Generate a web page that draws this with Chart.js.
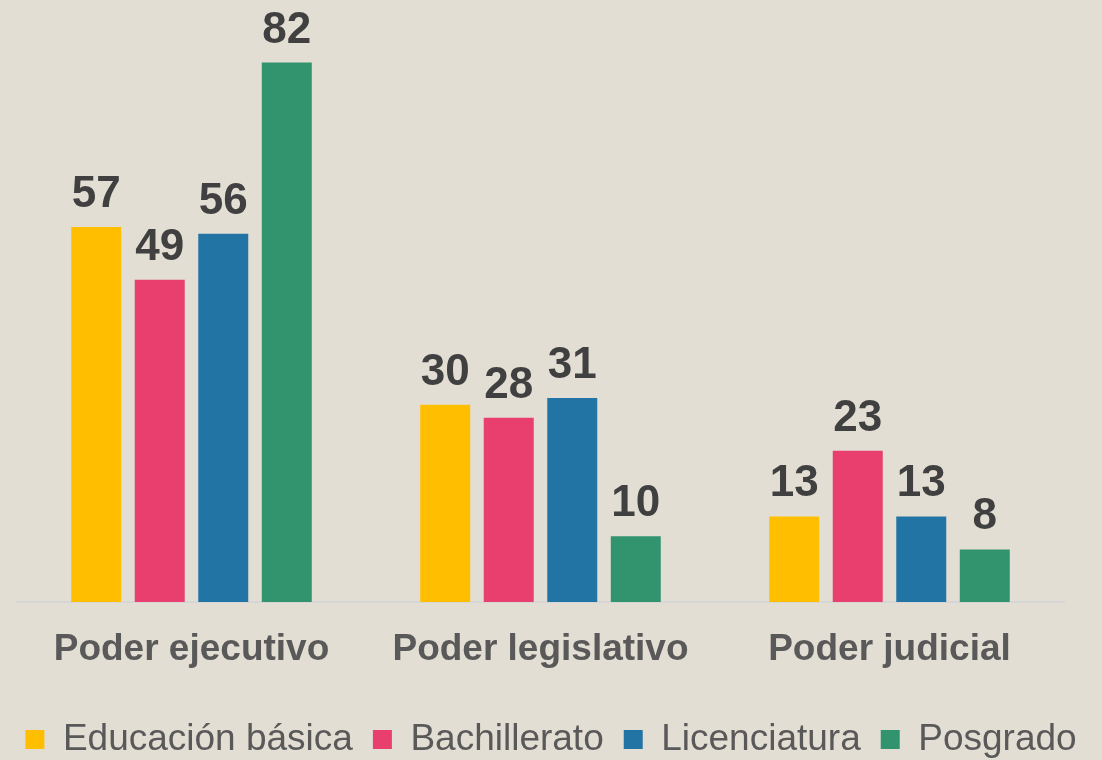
<!DOCTYPE html>
<html>
<head>
<meta charset="utf-8">
<script src="https://cdn.jsdelivr.net/npm/chart.js@4/dist/chart.umd.min.js"></script>
<style>
  html,body{margin:0;padding:0;background:#E3DED3;overflow:hidden;}
  #wrap{width:1102px;height:760px;position:relative;}
</style>
</head>
<body>
<div id="wrap"><canvas id="chart"></canvas></div>
<script>
    const categories = ['Poder ejecutivo', 'Poder legislativo', 'Poder judicial'];
    const seriesNames = ['Educación básica', 'Bachillerato', 'Licenciatura', 'Posgrado'];
    const basica = [57, 30, 13];
    const bachillerato = [49, 28, 23];
    const licenciatura = [56, 31, 13];
    const posgrado = [82, 10, 8];
    const colors = ['#FFBF00', '#E83F6F', '#2274A5', '#32936F'];

    const FONT = "'Liberation Sans', Arial, sans-serif";

    // value labels above each bar
    const valueLabels = {
      id: 'valueLabels',
      afterDatasetsDraw(chart){
        const ctx = chart.ctx;
        ctx.save();
        ctx.font = 'bold 44px ' + FONT;
        ctx.fillStyle = '#404040';
        ctx.textAlign = 'center';
        ctx.textBaseline = 'alphabetic';
        chart.data.datasets.forEach((ds, i) => {
          chart.getDatasetMeta(i).data.forEach((bar, j) => {
            ctx.fillText(String(ds.data[j]), bar.x, bar.y - 20);
          });
        });
        ctx.restore();
      }
    };

    const seriesValues = [basica, bachillerato, licenciatura, posgrado];

    // invisible side axes only reserve room left/right of the plot
    function spacer(pos, w){
      return {
        position: pos, display: true,
        grid: { display: false, drawTicks: false },
        border: { display: false },
        ticks: { display: false },
        afterFit: s => { s.width = w; }
      };
    }

    new Chart(document.getElementById('chart'), {
      type: 'bar',
      data: {
        labels: categories,
        datasets: seriesNames.map((name, i) => ({
          label: name,
          data: seriesValues[i],
          backgroundColor: colors[i],
          borderWidth: 0,
          categoryPercentage: 0.728,
          barPercentage: 0.787
        }))
      },
      options: {
        responsive: true,
        maintainAspectRatio: false,
        animation: false,
        layout: { padding: { top: 10, left: 0, right: 0, bottom: -8 } },
        plugins: {
          tooltip: { enabled: false },
          legend: {
            position: 'bottom',
            labels: {
              boxWidth: 19,
              boxHeight: 19,
              padding: 20,
              color: '#595959',
              font: { family: FONT, size: 37 }
            }
          }
        },
        scales: {
          x: {
            grid: { display: false, drawTicks: false },
            border: { display: true, color: '#D6D6D6', width: 2 },
            ticks: {
              color: '#595959',
              padding: 26,
              font: { family: FONT, size: 37, weight: 'bold' }
            },
            afterFit: s => { s.height = 99; }
          },
          y: Object.assign(spacer('left', 17), { min: 0, max: 90 }),
          yRight: spacer('right', 38)
        }
      },
      plugins: [valueLabels]
    });
</script>
</body>
</html>
